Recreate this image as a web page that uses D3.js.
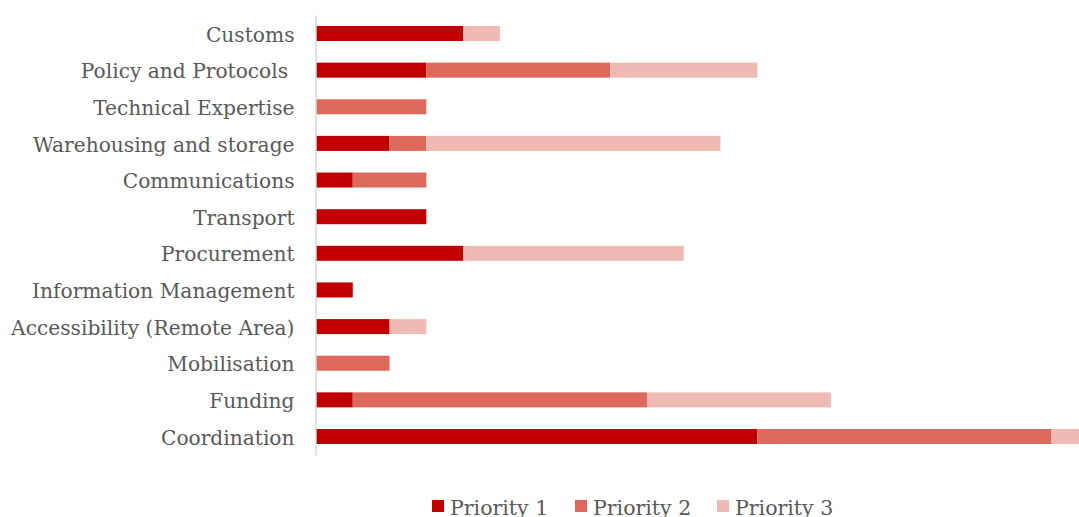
<!DOCTYPE html>
<html lang="en">
<head>
    <meta charset="UTF-8">
    <title>Priorities</title>
    <script src="https://d3js.org/d3.v7.min.js"></script>
    <style>
        body { margin: 0; background: #fff; }
        text { font-family: "DejaVu Serif", serif; fill: #595959; }
    </style>
</head>
<body>
    <svg id="chart" width="1079" height="517"></svg>
    <script>
        const categories = ["Customs", "Policy and Protocols ", "Technical Expertise", "Warehousing and storage",
            "Communications", "Transport", "Procurement", "Information Management",
            "Accessibility (Remote Area)", "Mobilisation", "Funding", "Coordination"];
        const priority1 = [4, 3, 0, 2, 1, 3, 4, 1, 2, 0, 1, 12];
        const priority2 = [0, 5, 3, 1, 2, 0, 0, 0, 0, 2, 8, 8];
        const priority3 = [1, 4, 0, 8, 0, 0, 6, 0, 1, 0, 5, 1];
        const seriesNames = ["Priority 1", "Priority 2", "Priority 3"];
        const colors = ["#C00000", "#DD695D", "#EFBAB3"];

        let margin = { top: 15, left: 316, bottom: 62 };
        const width = 1079, height = 517;
        let svg = d3.select("#chart");

        let data = categories.map((c, i) => ({
            cat: c, "Priority 1": priority1[i], "Priority 2": priority2[i], "Priority 3": priority3[i]
        }));
        let stacked = d3.stack().keys(seriesNames)(data);

        // one unit is about 36.7px in the original, right edge cuts the last bar
        let x = d3.scaleLinear().domain([0, 20.75]).range([margin.left, width]);
        let y = d3.scaleBand()
            .domain(categories)
            .range([margin.top, height - margin.bottom])
            .paddingInner(0.59)
            .paddingOuter(0.3);

        svg.selectAll("g.series")
            .data(stacked)
            .enter().append("g")
            .attr("fill", (d, i) => colors[i])
            .selectAll("rect")
            .data(d => d)
            .enter().append("rect")
            .attr("x", d => x(d[0]))
            .attr("y", d => y(d.data.cat))
            .attr("width", d => x(d[1]) - x(d[0]))
            .attr("height", y.bandwidth());

        // left axis: just the line and labels
        let axis = svg.append("g")
            .attr("transform", `translate(${margin.left - 0.5},0)`)
            .call(d3.axisLeft(y).tickSize(0).tickPadding(21));
        axis.select(".domain").attr("stroke", "#d9d9d9").attr("stroke-width", 1.5);
        axis.selectAll("text")
            .attr("font-family", "DejaVu Serif")
            .attr("font-size", 20.2)
            .attr("fill", "#595959")
            .attr("dy", "0.4em")
            .attr("xml:space", "preserve");

        // legend
        let legendX = [432, 575, 717];
        let legend = svg.selectAll("g.legend")
            .data(seriesNames)
            .enter().append("g")
            .attr("transform", (d, i) => `translate(${legendX[i]},500)`);
        legend.append("rect")
            .attr("width", 12).attr("height", 12)
            .attr("fill", (d, i) => colors[i]);
        legend.append("text")
            .attr("x", 18).attr("y", 14.5)
            .attr("font-size", 20.5)
            .text(d => d);
    </script>
</body>
</html>
